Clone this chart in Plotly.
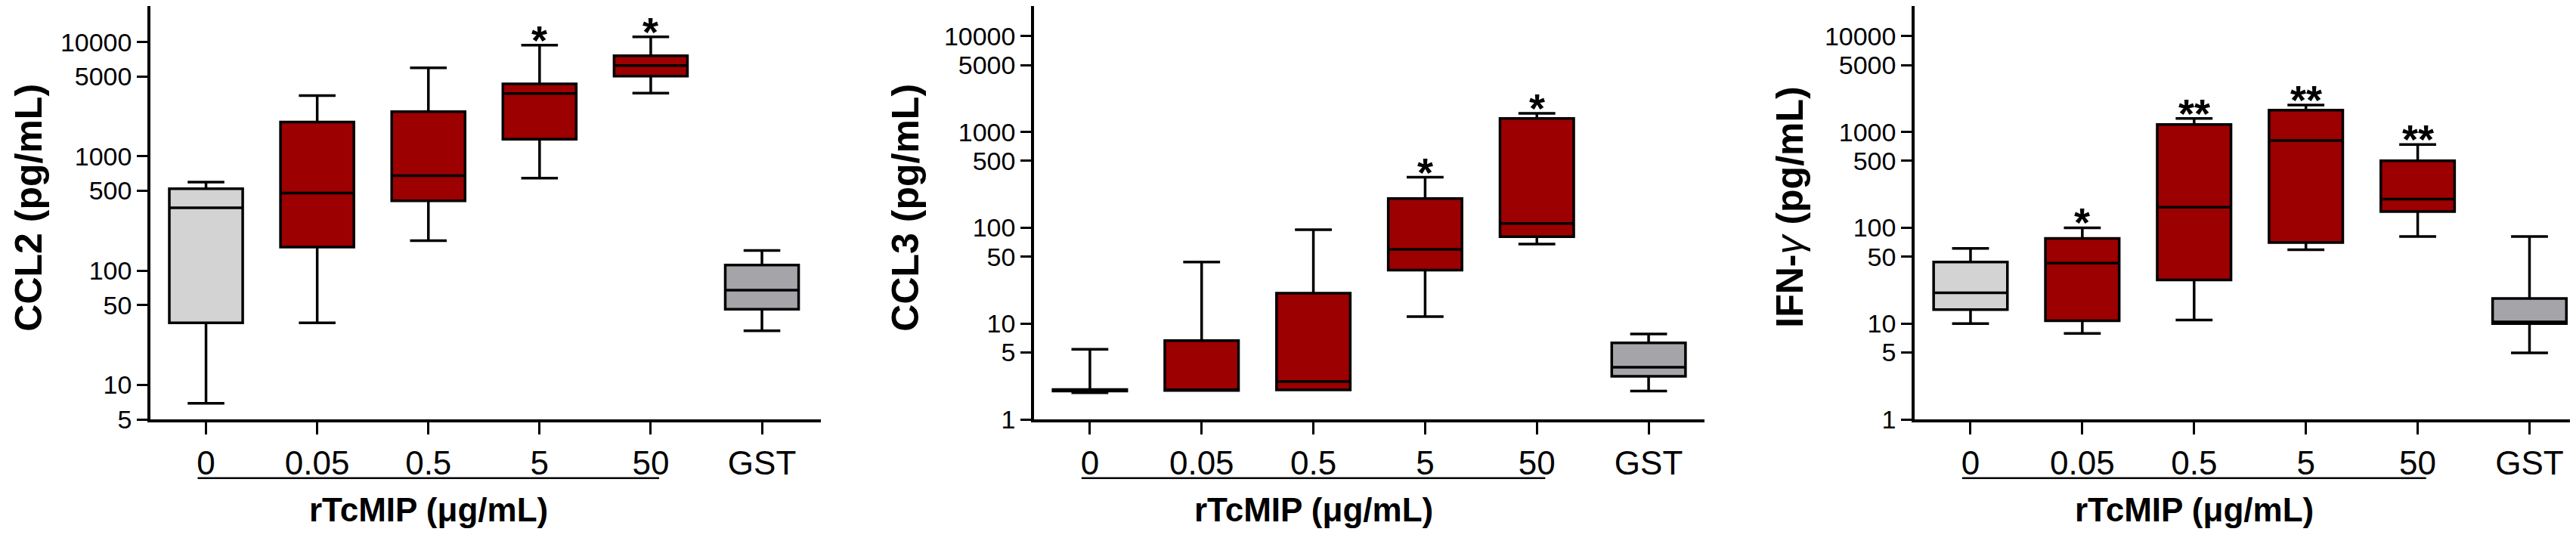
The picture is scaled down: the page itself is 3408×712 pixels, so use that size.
import math
import plotly.graph_objects as go

# groups on the x axis
categories = ['0', '0.05', '0.5', '5', '50', 'GST']

# CCL2 (pg/mL) box statistics
ccl2_low = [6.9, 35, 183, 645, 3580, 29.8]
ccl2_q1 = [35, 161, 408, 1410, 5030, 46]
ccl2_med = [355, 477, 677, 3540, 6225, 67.5]
ccl2_q3 = [521, 2000, 2465, 4300, 7590, 112]
ccl2_high = [596, 3400, 5950, 9380, 11090, 150]
ccl2_sig = ['', '', '', '*', '*', '']

# CCL3 (pg/mL)
ccl3_low = [1.9, 2.0, 2.03, 11.8, 67.7, 1.98]
ccl3_q1 = [1.98, 2.0, 2.03, 36.2, 80.8, 2.82]
ccl3_med = [2.02, 2.0, 2.48, 59.6, 111, 3.5]
ccl3_q3 = [2.05, 6.65, 20.8, 202, 1387, 6.3]
ccl3_high = [5.4, 44, 95.7, 337, 1565, 7.8]
ccl3_sig = ['', '', '', '*', '*', '']

# IFN-gamma (pg/mL)
ifn_low = [10, 7.9, 10.9, 59, 81, 4.94]
ifn_q1 = [14.0, 10.7, 28.5, 70, 147.6, 10]
ifn_med = [21, 42.8, 164, 816, 199, 10.4]
ifn_q3 = [44, 77.6, 1200, 1695, 500, 18.3]
ifn_high = [61, 100, 1387, 1914, 741, 81]
ifn_sig = ['', '*', '**', '**', '**', '']

box_colors = ['#D3D3D3', '#9C0000', '#9C0000', '#9C0000', '#9C0000', '#A5A5A9']

W, H = 3408, 712
FONT = 'Liberation Sans, Arial, sans-serif'

panels = [
    dict(name='CCL2', title='<b>CCL2 (pg/mL)</b>', low=ccl2_low, q1=ccl2_q1, med=ccl2_med,
         q3=ccl2_q3, high=ccl2_high, sig=ccl2_sig,
         x0=191, x1=1078, xr=[-0.5, 5.53], ymin=5,
         yticks=[5, 10, 50, 100, 500, 1000, 5000, 10000], title_x=30),
    dict(name='CCL3', title='<b>CCL3 (pg/mL)</b>', low=ccl3_low, q1=ccl3_q1, med=ccl3_med,
         q3=ccl3_q3, high=ccl3_high, sig=ccl3_sig,
         x0=1360, x1=2247, xr=[-0.5, 5.5], ymin=1,
         yticks=[1, 5, 10, 50, 100, 500, 1000, 5000, 10000], title_x=1190),
    dict(name='IFN', title='<b>IFN-</b><i>γ</i><b> (pg/mL)</b>', low=ifn_low, q1=ifn_q1, med=ifn_med,
         q3=ifn_q3, high=ifn_high, sig=ifn_sig,
         x0=2525, x1=3408, xr=[-0.5, 5.47], ymin=1,
         yticks=[1, 5, 10, 50, 100, 500, 1000, 5000, 10000], title_x=2360),
]

fig = go.Figure()
layout = dict(
    width=W, height=H, autosize=False,
    margin=dict(l=0, r=0, t=0, b=0),
    plot_bgcolor='white', paper_bgcolor='white',
    showlegend=False, boxmode='overlay',
    font=dict(family=FONT, color='black'),
)
annotations = []
shapes = []
ybottom = (H - 562) / H

for i, p in enumerate(panels):
    n = '' if i == 0 else str(i + 1)
    xa = 'x' + n
    ya = 'y' + n
    for j, cat in enumerate(categories):
        fig.add_trace(go.Box(
            x=[cat], q1=[p['q1'][j]], median=[p['med'][j]], q3=[p['q3'][j]],
            lowerfence=[p['low'][j]], upperfence=[p['high'][j]],
            fillcolor=box_colors[j], line=dict(color='black', width=3.5),
            width=0.66, whiskerwidth=0.5, boxpoints=False,
            xaxis=xa, yaxis=ya, hoverinfo='skip',
        ))
        if p['sig'][j]:
            # significance stars sit just above the upper whisker
            annotations.append(dict(
                x=j, y=math.log10(p['high'][j]), xref=xa, yref=ya,
                text='<b>' + p['sig'][j] + '</b>', showarrow=False,
                yanchor='bottom', yshift=-24, borderpad=0,
                font=dict(size=54, family=FONT, color='black'),
            ))
    layout['xaxis' + n] = dict(
        domain=[p['x0'] / W, p['x1'] / W], anchor=ya,
        type='category', categoryorder='array', categoryarray=categories,
        range=p['xr'], showgrid=False, zeroline=False,
        showline=True, linecolor='black', linewidth=3.5,
        ticks='outside', ticklen=16, tickwidth=3, tickcolor='black',
        tickfont=dict(size=44, family=FONT, color='black'),
    )
    layout['yaxis' + n] = dict(
        domain=[ybottom, 1], anchor=xa, type='log',
        range=[math.log10(p['ymin']), 4.315],
        tickvals=p['yticks'], ticktext=[str(v) for v in p['yticks']],
        showgrid=False, zeroline=False,
        showline=True, linecolor='black', linewidth=3.5,
        ticks='outside', ticklen=14, tickwidth=3, tickcolor='black',
        tickfont=dict(size=34, family=FONT, color='black'),
    )
    # rotated y title
    annotations.append(dict(
        x=p['title_x'] / W, y=(H - 274) / H, xref='paper', yref='paper',
        text=p['title'], textangle=-90, showarrow=False,
        xanchor='center', yanchor='middle',
        font=dict(size=50, family=FONT, color='black'),
    ))
    # bracket line under the rTcMIP doses
    shapes.append(dict(
        type='line', xref=xa, yref='paper', x0=-0.075, x1=4.075,
        y0=(H - 642) / H, y1=(H - 642) / H,
        line=dict(color='black', width=2.5),
    ))
    annotations.append(dict(
        x=2, y=0, xref=xa, yref='paper', text='<b>rTcMIP (μg/mL)</b>',
        showarrow=False, xanchor='center', yanchor='bottom',
        font=dict(size=44, family=FONT, color='black'),
    ))

layout['annotations'] = annotations
layout['shapes'] = shapes
fig.update_layout(**layout)

fig.write_html("out.html")
